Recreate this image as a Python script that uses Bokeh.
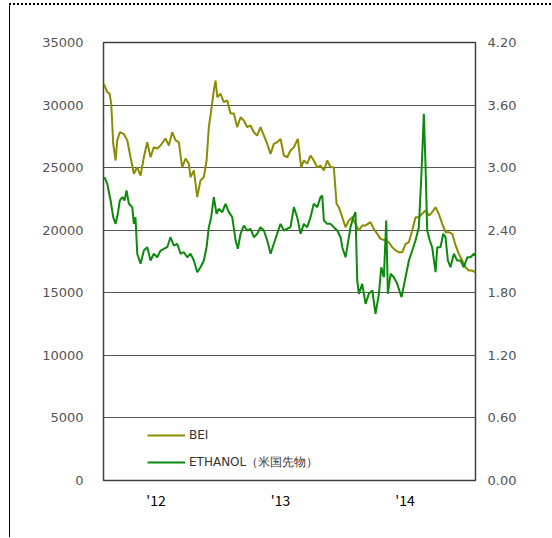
from bokeh.plotting import figure
from bokeh.models import (Range1d, LinearAxis, FixedTicker, NumeralTickFormatter,
                          Legend, LegendItem)
from bokeh.embed import file_html
from bokeh.resources import INLINE

# ---- data (time in fractional years) ----
bei_t = [2011.581, 2011.608, 2011.627, 2011.640, 2011.656, 2011.675, 2011.688, 2011.709, 2011.741, 2011.769,
         2011.795, 2011.822, 2011.849, 2011.876, 2011.902, 2011.929, 2011.956, 2011.982, 2012.010, 2012.036,
         2012.076, 2012.103, 2012.130, 2012.157, 2012.183, 2012.210, 2012.237, 2012.263, 2012.277, 2012.304,
         2012.331, 2012.357, 2012.384, 2012.406, 2012.424, 2012.443, 2012.464, 2012.478, 2012.492, 2012.518,
         2012.545, 2012.572, 2012.598, 2012.625, 2012.652, 2012.679, 2012.705, 2012.733, 2012.759, 2012.786,
         2012.813, 2012.839, 2012.866, 2012.893, 2012.920, 2012.946, 2012.973, 2013.000, 2013.027, 2013.054,
         2013.080, 2013.107, 2013.139, 2013.166, 2013.187, 2013.214, 2013.241, 2013.267, 2013.295, 2013.321,
         2013.348, 2013.375, 2013.402, 2013.428, 2013.450, 2013.468, 2013.496, 2013.522, 2013.549, 2013.576,
         2013.602, 2013.629, 2013.656, 2013.683, 2013.723, 2013.749, 2013.777, 2013.803, 2013.843, 2013.870,
         2013.897, 2013.924, 2013.950, 2013.978, 2014.004, 2014.031, 2014.058, 2014.084, 2014.111, 2014.138,
         2014.165, 2014.191, 2014.218, 2014.245, 2014.271, 2014.299, 2014.325, 2014.352, 2014.379, 2014.406,
         2014.432, 2014.459, 2014.486, 2014.512, 2014.540, 2014.566]
bei_v = [31700, 31030, 30920, 30120, 26930, 25570, 27170, 27830, 27700, 27170,
         25830, 24510, 25030, 24370, 25830, 27030, 25830, 26630, 26530, 26770,
         27330, 26770, 27830, 27170, 27030, 25030, 25730, 25330, 24240, 24770,
         22640, 23970, 24240, 25570, 28230, 29570, 31160, 31960, 30630, 30900,
         30230, 30370, 29330, 29330, 28230, 29030, 28770, 28230, 28370, 27830,
         27570, 28230, 27570, 26900, 26100, 26900, 27030, 27300, 25970, 25830,
         26370, 26630, 27300, 25030, 25570, 25330, 25970, 25570, 25030, 25170,
         24770, 25570, 25030, 25030, 22110, 21840, 21040, 20240, 20780, 21040,
         20510, 19980, 20380, 20380, 20640, 20110, 19710, 19310, 19180, 19040,
         18640, 18380, 18240, 18240, 18910, 19040, 19980, 21040, 21040, 21310,
         21570, 21180, 21440, 21840, 21310, 20510, 19840, 19840, 19710, 18780,
         18110, 17580, 17040, 16780, 16780, 16640]

eth_t = [2011.586, 2011.608, 2011.635, 2011.656, 2011.675, 2011.693, 2011.709, 2011.729, 2011.747, 2011.763,
         2011.782, 2011.809, 2011.822, 2011.835, 2011.849, 2011.876, 2011.902, 2011.929, 2011.956, 2011.982,
         2012.010, 2012.036, 2012.063, 2012.090, 2012.116, 2012.143, 2012.170, 2012.197, 2012.223, 2012.251,
         2012.277, 2012.304, 2012.331, 2012.357, 2012.384, 2012.406, 2012.424, 2012.443, 2012.464, 2012.486,
         2012.504, 2012.532, 2012.558, 2012.585, 2012.612, 2012.639, 2012.657, 2012.679, 2012.705, 2012.733,
         2012.759, 2012.786, 2012.813, 2012.839, 2012.866, 2012.893, 2012.920, 2012.946, 2012.973, 2013.000,
         2013.027, 2013.054, 2013.080, 2013.107, 2013.134, 2013.161, 2013.187, 2013.214, 2013.241, 2013.267,
         2013.295, 2013.321, 2013.335, 2013.348, 2013.375, 2013.402, 2013.428, 2013.455, 2013.482, 2013.496,
         2013.522, 2013.536, 2013.562, 2013.584, 2013.602, 2013.616, 2013.629, 2013.656, 2013.683, 2013.709,
         2013.737, 2013.763, 2013.790, 2013.809, 2013.830, 2013.849, 2013.862, 2013.884, 2013.910, 2013.937,
         2013.972, 2014.004, 2014.031, 2014.058, 2014.084, 2014.111, 2014.133, 2014.151, 2014.165, 2014.178,
         2014.199, 2014.218, 2014.245, 2014.259, 2014.285, 2014.307, 2014.325, 2014.344, 2014.365, 2014.392,
         2014.419, 2014.446, 2014.472, 2014.500, 2014.526, 2014.553, 2014.566]
eth_v = [2.908, 2.845, 2.685, 2.525, 2.461, 2.557, 2.685, 2.717, 2.685, 2.781,
         2.653, 2.621, 2.461, 2.525, 2.174, 2.078, 2.205, 2.237, 2.110, 2.174,
         2.141, 2.205, 2.222, 2.237, 2.333, 2.253, 2.270, 2.174, 2.189, 2.141,
         2.174, 2.110, 1.997, 2.045, 2.110, 2.237, 2.429, 2.525, 2.717, 2.557,
         2.605, 2.573, 2.653, 2.573, 2.525, 2.301, 2.222, 2.366, 2.445, 2.397,
         2.414, 2.333, 2.366, 2.429, 2.397, 2.301, 2.174, 2.270, 2.366, 2.461,
         2.397, 2.414, 2.429, 2.621, 2.525, 2.366, 2.461, 2.429, 2.525, 2.653,
         2.621, 2.717, 2.733, 2.493, 2.461, 2.461, 2.429, 2.397, 2.333, 2.237,
         2.141, 2.237, 2.429, 2.525, 2.573, 1.918, 1.790, 1.886, 1.694, 1.790,
         1.822, 1.598, 1.790, 2.045, 1.949, 2.493, 1.790, 1.982, 1.949, 1.886,
         1.758, 1.949, 2.110, 2.205, 2.301, 2.429, 2.973, 3.516, 3.004, 2.397,
         2.301, 2.237, 1.997, 2.237, 2.237, 2.366, 2.333, 2.110, 2.045, 2.174,
         2.110, 2.110, 2.045, 2.141, 2.141, 2.174, 2.158]

x_ticks = [2012, 2013, 2014]
x_labels = ["'12", "'13", "'14"]
left_ticks = [0, 5000, 10000, 15000, 20000, 25000, 30000, 35000]
right_ticks = [0.0, 0.6, 1.2, 1.8, 2.4, 3.0, 3.6, 4.2]
series_names = ["BEI", "ETHANOL（米国先物）"]

BEI_COLOR = "#8c8c00"
ETH_COLOR = "#0b8a0b"
TICK_FONT = "DejaVu Sans"

p = figure(width=541, height=532, frame_width=372, frame_height=438,
           min_border_left=93, min_border_right=76, min_border_top=37, min_border_bottom=57,
           x_range=Range1d(2011.578, 2014.566), y_range=Range1d(0, 35000),
           output_backend="svg", toolbar_location=None)
p.margin = (3, 0, 0, 9)
p.styles = {"border-top": "2px dotted #000000", "border-left": "1px solid #000000"}
p.extra_y_ranges = {"eth": Range1d(0, 4.2)}

p.outline_line_color = "#404040"
p.outline_line_width = 1.5
p.xgrid.visible = False
p.ygrid.ticker = FixedTicker(ticks=left_ticks)
p.ygrid.grid_line_color = "#555555"
p.ygrid.grid_line_width = 1.2

# x axis
xa = p.xaxis[0]
xa.ticker = FixedTicker(ticks=x_ticks)
xa.major_label_overrides = {t: l for t, l in zip(x_ticks, x_labels)}
xa.axis_line_color = None
xa.major_tick_line_color = None
xa.minor_tick_line_color = None
xa.major_tick_out = 0
xa.major_label_standoff = 9
xa.major_label_text_font = "Noto Sans CJK JP"
xa.major_label_text_font_size = "14px"
xa.major_label_text_color = "#000000"

# left axis
ya = p.yaxis[0]
ya.ticker = FixedTicker(ticks=left_ticks)
ya.formatter = NumeralTickFormatter(format="0")
ya.axis_line_color = None
ya.major_tick_line_color = None
ya.minor_tick_line_color = None
ya.major_tick_out = 0
ya.major_label_standoff = 20
ya.major_label_text_font = TICK_FONT
ya.major_label_text_font_size = "13px"
ya.major_label_text_color = "#555555"

# right axis
ra = LinearAxis(y_range_name="eth", ticker=FixedTicker(ticks=right_ticks),
                formatter=NumeralTickFormatter(format="0.00"))
ra.axis_line_color = None
ra.major_tick_line_color = None
ra.minor_tick_line_color = None
ra.major_tick_out = 0
ra.major_label_standoff = 12
ra.major_label_text_font = TICK_FONT
ra.major_label_text_font_size = "13px"
ra.major_label_text_color = "#555555"
p.add_layout(ra, "right")

r_bei = p.line(bei_t, bei_v, line_color=BEI_COLOR, line_width=2)
r_eth = p.line(eth_t, eth_v, y_range_name="eth", line_color=ETH_COLOR, line_width=2)

legend = Legend(items=[LegendItem(label=series_names[0], renderers=[r_bei]),
                       LegendItem(label=series_names[1], renderers=[r_eth])],
                location=(44, 8), orientation="vertical",
                background_fill_alpha=0, border_line_alpha=0,
                padding=0, margin=0, spacing=7,
                glyph_width=38, glyph_height=20, label_height=20, label_standoff=4,
                label_text_font=TICK_FONT, label_text_font_size="12px",
                label_text_color="#333333")
p.add_layout(legend)

open("out.html", "w").write(file_html(p, INLINE))
